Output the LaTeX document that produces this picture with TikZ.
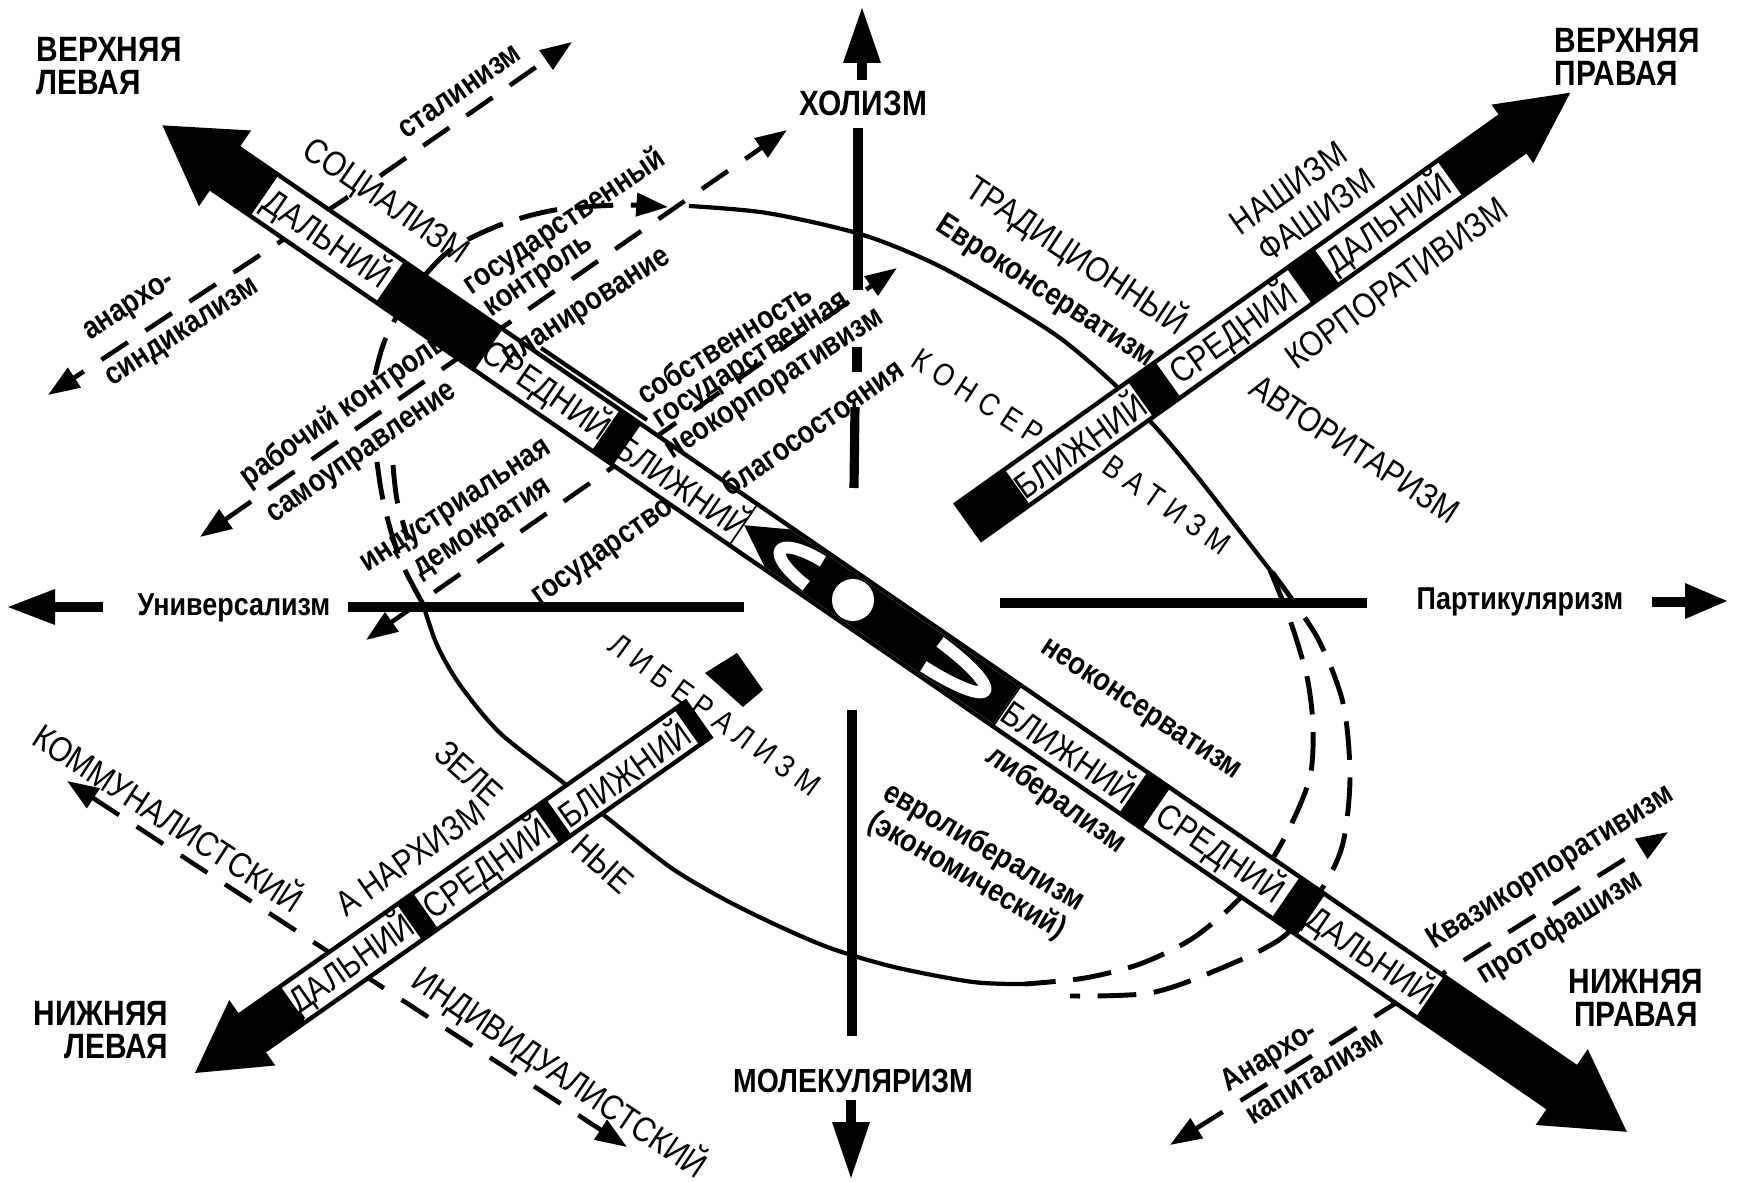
\documentclass[tikz,border=0pt]{standalone}
\usepackage{fontspec}
\setmainfont{Liberation Sans}[FakeStretch=0.85]
\usetikzlibrary{arrows.meta}
\tikzset{
  ax/.style={line width=2.6pt},
  oval/.style={line width=1.2pt},
  ovald/.style={line width=1.4pt,dash pattern=on 11pt off 5pt},
  flow/.style={line width=1.3pt,dash pattern=on 9pt off 6pt},
  tipe/.style={-{Triangle[length=9pt,width=6.5pt]}},
  tipb/.style={{Triangle[length=9pt,width=6.5pt]}-{Triangle[length=9pt,width=6.5pt]}},
  lw/.style={font=\fontsize{9}{9.5}\selectfont\bfseries,inner sep=0pt},
  upp/.style={font=\fontsize{10}{10}\selectfont,inner sep=0pt},
  cor/.style={font=\fontsize{10}{9.4}\selectfont\bfseries,inner sep=0pt},
}
\begin{document}
\begin{tikzpicture}[x=0.01cm,y=-0.01cm]
\useasboundingbox (0,0) rectangle (1738,1182);
% oval of currents
\draw[oval] plot[smooth] coordinates {(689,206) (767,213) (860,234) (933,263) (1000,300) (1060,338) (1113,383) (1160,432) (1200,480) (1235,525) (1270,570)};
\draw[ovald] plot[smooth] coordinates {(1270,570) (1290,620) (1307,677) (1313,727) (1310,777) (1290,827) (1265,870) (1230,908) (1190,940) (1140,964) (1085,978) (1025,984)};
\draw[ovald] plot[smooth] coordinates {(1272,572) (1317,637) (1343,703) (1350,777) (1343,843) (1323,887) (1283,937) (1217,970) (1150,993) (1070,996)};
\draw[oval] plot[smooth] coordinates {(1025,984) (973,982) (894,967) (830,948) (772,923) (720,897) (670,867) (610,820) (560,780) (500,733) (460,685) (437,645) (423,604)};
\draw[ovald] plot[smooth] coordinates {(423,604) (405,570) (392,535) (382,495) (377,462)};
\draw[ovald,tipe] plot[smooth] coordinates {(375,375) (385,340) (410,294) (449,251) (500,225) (555,210) (620,205) (668,207)};
\draw[ovald] plot[smooth] coordinates {(393,465) (397,500) (408,540)};
\draw[oval] (541,348) -- (647,420);
% dashed currents
\coordinate (s1) at (48,395); \coordinate (s2) at (348,197); \coordinate (s3) at (380,176); \coordinate (s4) at (572,42);
\draw[flow,tipe] (s2) -- (s1); \draw[flow,tipe] (s3) -- (s4);
\coordinate (r1) at (200,537); \coordinate (r2) at (787,130);
\draw[flow,tipb] (r1) -- (r2);
\coordinate (i1) at (366,640); \coordinate (i2) at (897,268);
\draw[flow,tipb] (i1) -- (i2);
\coordinate (q1) at (1170,1145); \coordinate (q2) at (1668,832);
\draw[flow,tipb] (q1) -- (q2);
\coordinate (k1) at (67,781); \coordinate (k2) at (627,1147);
\draw[flow,tipb] (k1) -- (k2);
% axes
\draw[ax] (858,128) -- (858,290); \draw[ax] (857,347) -- (857,372); \draw[ax] (855,407) -- (854,488);
\draw[ax] (852,710) -- (852,1036);
\draw[ax] (348,607) -- (744,607); \draw[ax] (1000,603) -- (1367,603);
\fill (862,8) -- (843,63) -- (881,63) -- cycle; \draw[ax] (862,60) -- (862,80);
\fill (851,1178) -- (832,1122) -- (870,1122) -- cycle; \draw[ax] (851,1100) -- (851,1125);
\fill (8,607) -- (55,589) -- (55,625) -- cycle; \draw[ax] (52,607) -- (103,607);
\fill (1727,601) -- (1685,583) -- (1685,619) -- cycle; \draw[ax] (1652,602) -- (1688,602);
% main bar
\begin{scope}[shift={(853,600)},rotate=-34.5]
\fill (-838,0) -- (-762,-46) -- (-762,46) -- cycle;
\fill (939,0) -- (860,-46) -- (860,46) -- cycle;
\fill (-765,-27) rectangle (862,27);
\foreach \a/\b/\m/\w [count=\i] in {-714/-562/-638/ДАЛЬНИЙ,-442/-300/-371/СРЕДНИЙ,-274/-134/-204/БЛИЖНИЙ,188/340/264/БЛИЖНИЙ,368/525/446/СРЕДНИЙ,556/700/628/ДАЛЬНИЙ}{
  \fill[white] (\a,-22.5) rectangle (\b,22.5);
  \node[upp,rotate=-34.5] (m\i) at (\m,0) {\w};}
\fill[white] (-132,-22.5) rectangle (186,22.5);
\fill (-132,0) -- (-92,-22.5) -- (186,-22.5) -- (186,22.5) -- (-92,22.5) -- cycle;
\draw[white,line width=3.4pt] plot[domain=100:260,samples=40] ({-38+50*cos(\x)},{15*sin(\x)});
\draw[white,line width=3.4pt] plot[domain=-80:80,samples=40] ({82+78*cos(\x)},{15*sin(\x)});
\fill[white] (0,0) circle[radius=21];
\end{scope}
% upper right bar
\begin{scope}[shift={(967,523)},rotate=35.5]
\fill (0,-24) rectangle (672,24);
\fill (670,-36) -- (741,0) -- (670,36) -- cycle;
\foreach \a/\b/\m/\w [count=\i] in {62/213/137/БЛИЖНИЙ,247/408/327/СРЕДНИЙ,442/593/517/ДАЛЬНИЙ}{
  \fill[white] (\a,-19.5) rectangle (\b,19.5);
  \node[upp,rotate=35.5] (u\i) at (\m,0) {\w};}
\end{scope}
% lower left bar
\begin{scope}[shift={(195,1073)},rotate=35.1]
\fill (0,0) -- (70,-40) -- (70,40) -- cycle;
\fill (68,-24) rectangle (617,24);
\foreach \a/\b/\m/\w [count=\i] in {120/262/191/ДАЛЬНИЙ,282/430/356/СРЕДНИЙ,445/601/523/БЛИЖНИЙ}{
  \fill[white] (\a,-19.5) rectangle (\b,19.5);
  \node[upp,rotate=35.1] (d\i) at (\m,0) {\w};}
\end{scope}
\fill (705,673) -- (737,653) -- (763,690) -- (743,707) -- cycle;
% corner labels
\node[cor,align=left,anchor=north west] (ul) at (36,37) {ВЕРХНЯЯ\\ЛЕВАЯ};
\node[cor,align=left,anchor=north west] (ur) at (1554,28) {ВЕРХНЯЯ\\ПРАВАЯ};
\node[cor,align=right,anchor=north east] (ll) at (169,1001) {НИЖНЯЯ\\ЛЕВАЯ};
\node[cor,align=center,anchor=north] (lr) at (1636,969) {НИЖНЯЯ\\ПРАВАЯ};
% axis labels
\node[cor] (hol) at (863,103) {ХОЛИЗМ};
\node[cor,font=\fontsize{9.5}{9.5}\selectfont\bfseries] (mol) at (853,1081) {МОЛЕКУЛЯРИЗМ};
\node[lw] (uni) at (234,608) {Универсализм};
\node[lw] (par) at (1520,602) {Партикуляризм};
% left side currents
\node[upp,rotate=-34.5] (soc) at (385,203) {СОЦИАЛИЗМ};
\node[lw,rotate=35] (sta) at (460,92) {сталинизм};
\node[lw,rotate=33] (an1) at (130,308) {анархо-};
\node[lw,rotate=33] (an2) at (183,334) {синдикализм};
\node[lw,rotate=34] (gk1) at (565,222) {государственный};
\node[lw,rotate=34] (gk2) at (540,278) {контроль};
\node[lw,rotate=33] (gk3) at (588,309) {планирование};
\node[lw,rotate=35] (rk1) at (344,410) {рабочий контроль};
\node[lw,rotate=35] (rk2) at (363,455) {самоуправление};
\node[lw,rotate=33] (id1) at (457,508) {индустриальная};
\node[lw,rotate=33] (id2) at (484,530) {демократия};
\node[lw,rotate=32] (gs1) at (724,343) {собственность};
\node[lw,rotate=33] (gs2) at (753,362) {государственная};
\node[lw,rotate=33] (nk) at (776,386) {неокорпоративизм};
\node[lw,rotate=35] (bs) at (812,427) {благосостояния};
\node[lw,rotate=35] (gv) at (604,554) {государство};
% conservative side
\node[upp,rotate=-33.5] (tr) at (1077,255) {ТРАДИЦИОННЫЙ};
\node[lw,rotate=-33] (ek) at (1045,292) {Евроконсерватизм};
\node[upp,font=\fontsize{9}{9}\selectfont,rotate=-33] (ks) at (978,397) {К О Н С Е Р};
\node[upp,font=\fontsize{9}{9}\selectfont,rotate=-35] (vt) at (1167,505) {В А Т И З М};
\node[upp,rotate=35] (na) at (1288,188) {НАШИЗМ};
\node[upp,rotate=35] (fa) at (1316,215) {ФАШИЗМ};
\node[upp,rotate=36] (kp) at (1396,283) {КОРПОРАТИВИЗМ};
\node[upp,rotate=-33] (av) at (1355,449) {АВТОРИТАРИЗМ};
% liberal side
\node[upp,font=\fontsize{9}{9}\selectfont,rotate=-36] (lb) at (715,715) {Л И Б Е Р А Л И З М};
\node[lw,rotate=-33.5] (nc) at (1140,711) {неоконсерватизм};
\node[lw,rotate=-35] (lib) at (1056,800) {либерализм};
\node[lw,align=center,rotate=-30] (el) at (975,862) {евролиберализм\\(экономический)};
\node[lw,rotate=32] (kv) at (1551,868) {Квазикорпоративизм};
\node[lw,rotate=32] (pf) at (1560,928) {протофашизм};
\node[lw,rotate=32] (ak1) at (1270,1058) {Анархо-};
\node[lw,rotate=32] (ak2) at (1315,1077) {капитализм};
% green side
\node[upp,rotate=-33] (km) at (170,816) {КОММУНАЛИСТСКИЙ};
\node[upp,rotate=-34] (in) at (560,1072) {ИНДИВИДУАЛИСТСКИЙ};
\node[upp,rotate=35] (anr) at (410,858) {А НАРХИЗМ};
\node[upp,rotate=-42] (ze) at (469,773) {ЗЕЛЕ};
\node[upp,rotate=-42] (ny) at (603,864) {НЫЕ};
\end{tikzpicture}
\end{document}
